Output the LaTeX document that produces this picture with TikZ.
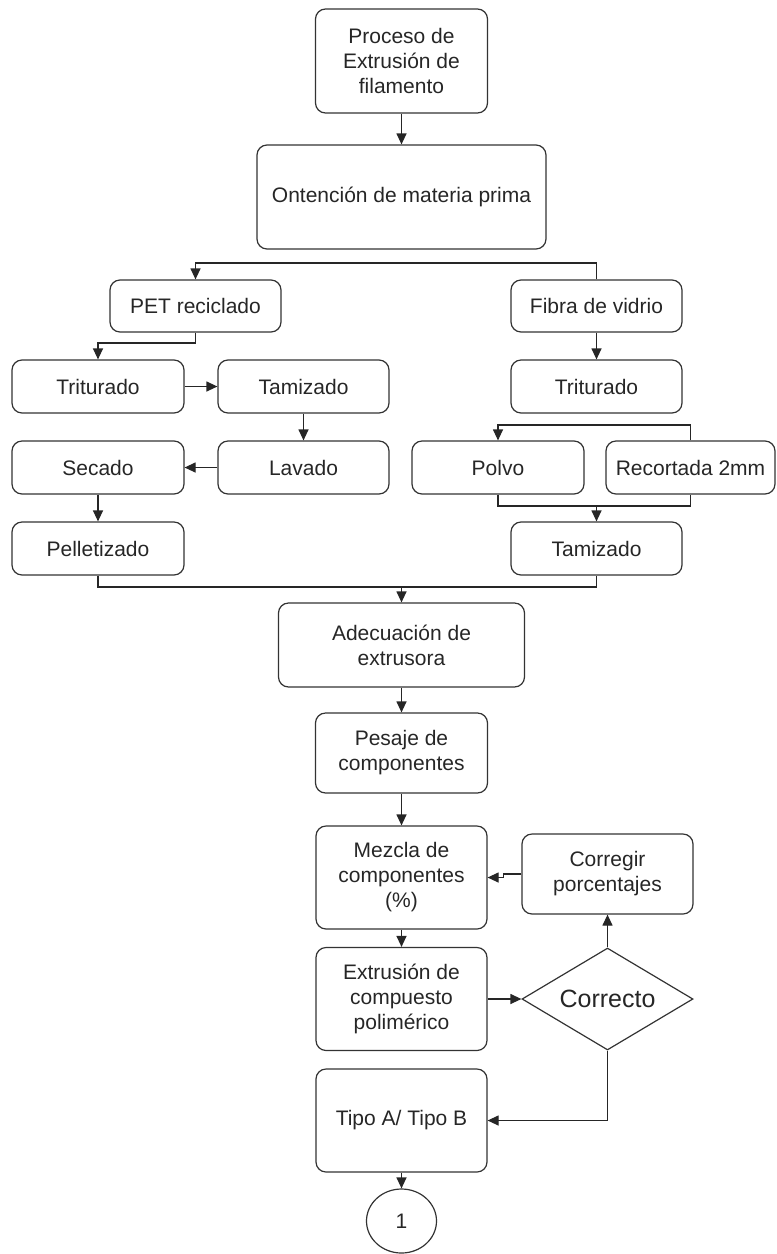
\documentclass[tikz,border=0pt]{standalone}
\usepackage{fontspec}
\setmainfont{Liberation Sans}
\usetikzlibrary{arrows.meta,shapes.geometric}
\begin{document}
\begin{tikzpicture}[x=1pt,y=-1pt,
  box/.style={draw=black!80,line width=1.2pt,rounded corners=10pt,align=center,inner sep=2pt,text=black!85,font=\fontsize{21}{25}\selectfont},
  arr/.style={draw=black!85,line width=1.2pt,-{Triangle[length=11pt,width=10pt]}},
  ln/.style={draw=black!85,line width=1.2pt}]
\useasboundingbox (0,0) rectangle (777,1254);
% nodes
\node[box,minimum width=172pt,minimum height=104pt] (proc) at (401.5,61) {Proceso de\\Extrusión de\\filamento};
\node[box,minimum width=289pt,minimum height=104pt] (obt) at (401.5,197) {Ontención de materia prima};
\node[box,minimum width=171pt,minimum height=52pt] (pet) at (195.5,306) {PET reciclado};
\node[box,minimum width=171pt,minimum height=52pt] (fib) at (596.5,306) {Fibra de vidrio};
\node[box,minimum width=172pt,minimum height=53pt] (trl) at (98,386.5) {Triturado};
\node[box,minimum width=171pt,minimum height=53pt] (taml) at (303.5,386.5) {Tamizado};
\node[box,minimum width=171pt,minimum height=53pt] (trr) at (596.5,386.5) {Triturado};
\node[box,minimum width=172pt,minimum height=53pt] (sec) at (98,467.5) {Secado};
\node[box,minimum width=171pt,minimum height=53pt] (lav) at (303.5,467.5) {Lavado};
\node[box,minimum width=172pt,minimum height=53pt] (pol) at (498,467.5) {Polvo};
\node[box,minimum width=169pt,minimum height=53pt] (rec) at (690.5,467.5) {Recortada 2mm};
\node[box,minimum width=172pt,minimum height=53pt] (pel) at (98,548.5) {Pelletizado};
\node[box,minimum width=171pt,minimum height=53pt] (tamr) at (596.5,548.5) {Tamizado};
\node[box,minimum width=246pt,minimum height=84pt] (ade) at (401.5,645) {Adecuación de\\extrusora};
\node[box,minimum width=172pt,minimum height=80pt] (pes) at (401.5,753) {Pesaje de\\componentes};
\node[box,minimum width=171pt,minimum height=103pt] (mez) at (401.5,877.5) {Mezcla de\\componentes\\(\%)};
\node[box,minimum width=171pt,minimum height=80pt] (cor) at (607.5,874) {Corregir\\porcentajes};
\node[box,minimum width=171pt,minimum height=103pt] (ext) at (401.5,999) {Extrusión de\\compuesto\\polimérico};
\node[box,rounded corners=0pt,diamond,aspect=1.676,inner sep=0pt,minimum width=171pt,minimum height=102pt,font=\fontsize{25}{30}\selectfont] (dia) at (607.5,999) {Correcto};
\node[box,minimum width=171pt,minimum height=103pt] (tipo) at (401.5,1120.5) {Tipo A/ Tipo B};
\node[box,ellipse,inner sep=0pt,minimum width=70pt,minimum height=64pt] (one) at (401.5,1221) {1};
% levels
\coordinate (y1) at (0,263);
\coordinate (y2) at (0,343);
\coordinate (y3) at (0,425);
\coordinate (y4) at (0,506);
\coordinate (y5) at (0,587);
% connectors
\draw[arr] (proc.south) -- (proc.south |- obt.north);
\draw[arr] (fib.north) -- (fib.north |- y1) -| (pet.north);
\draw[arr] (pet.south) -- (pet.south |- y2) -| (trl.north);
\draw[arr] (trl.east) -- (taml.west);
\draw[arr] (fib.south) -- (trr.north);
\draw[arr] (taml.south) -- (lav.north);
\draw[arr] (lav.west) -- (sec.east);
\draw[arr] (sec.south) -- (pel.north);
\draw[arr] (rec.north) -- (rec.north |- y3) -| (pol.north);
\draw[ln] (pol.south) -- (pol.south |- y4) -| (rec.south);
\draw[arr] (tamr.north |- y4) -- (tamr.north);
\draw[ln] (pel.south) -- (pel.south |- y5) -| (tamr.south);
\draw[arr] (ade.north |- y5) -- (ade.north);
\draw[arr] (ade.south) -- (pes.north);
\draw[arr] (pes.south) -- (mez.north);
\draw[arr] (cor.west) -- ++(-18,0) |- (mez.east);
\draw[arr] (mez.south) -- (ext.north);
\draw[arr] (ext.east) -- (dia.west);
\draw[arr] (dia.north) -- (cor.south);
\draw[arr] (dia.south) |- (tipo.east);
\draw[arr] (tipo.south) -- (one.north);
\end{tikzpicture}
\end{document}
